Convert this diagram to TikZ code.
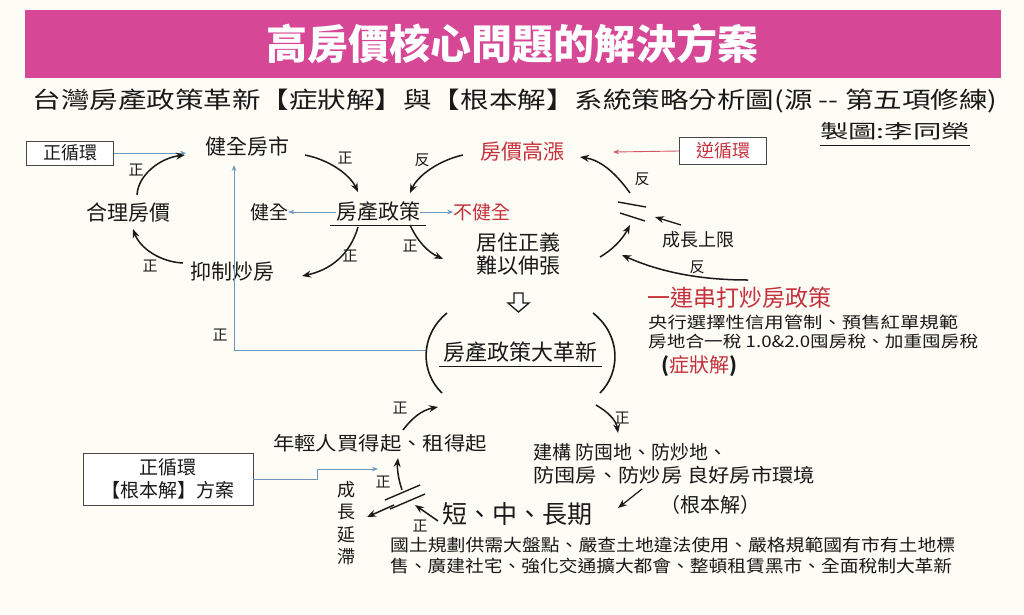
\documentclass[tikz,border=0pt]{standalone}
\usepackage{fontspec}
\setmainfont{Noto Sans CJK TC}
\usetikzlibrary{arrows.meta}
\definecolor{bgc}{RGB}{253,252,245}
\definecolor{titlec}{RGB}{214,72,150}
\definecolor{redc}{RGB}{196,48,60}
\definecolor{bluec}{RGB}{110,150,190}
\definecolor{inkc}{RGB}{25,25,25}
\newcommand{\hfitw}[2]{\resizebox{#1}{\height}{#2}}
\begin{document}
\begin{tikzpicture}[x=1pt,y=-1pt,
  every node/.style={inner sep=0pt, text=inkc},
  lbl/.style={font=\fontsize{21}{25}\selectfont},
  mid/.style={font=\fontsize{19}{22}\selectfont},
  sgn/.style={font=\fontsize{15}{18}\selectfont},
  redt/.style={text=redc},
  arr/.style={draw=inkc, line width=1.5pt, -{Stealth[length=9pt,width=7pt]}},
  barr/.style={draw=bluec, line width=0.9pt, -{Stealth[length=6pt,width=4.5pt]}},
  rarr/.style={draw=redc!80, line width=0.9pt, -{Stealth[length=6pt,width=4.5pt]}},
  brk/.style={draw=inkc, line width=1.4pt},
  boxs/.style={draw=inkc!80, line width=0.9pt, fill=white}
]
\useasboundingbox (0,0) rectangle (1024,614);
\fill[bgc] (0,0) rectangle (1024,614);
% title
\fill[titlec] (25,10) rectangle (1001,78);
\node[text=white, font=\fontsize{41}{44}\selectfont\bfseries] (title) at (512,44) {高房價核心問題的解決方案};
\node[font=\fontsize{23}{26}\selectfont] (sub) at (515,101) {\hfitw{965pt}{台灣房產政策革新【症狀解】與【根本解】系統策略分析圖(源 -{}- 第五項修練)}};
\node[font=\fontsize{19}{22}\selectfont] (auth) at (895,131) {\hfitw{150pt}{製圖:李同榮}};
\draw[inkc, line width=0.9pt] (820,145) -- (970,145);

% upper left loop
\node[boxs, minimum width=87pt, minimum height=24pt, font=\fontsize{18}{20}\selectfont] (box1) at (70,153) {正循環};
\node[lbl] (A) at (247,146) {健全房市};
\node[lbl] (B) at (128,213) {合理房價};
\node[lbl] (C) at (232,272) {抑制炒房};
\node[lbl] (D) at (378,212) {房產政策};
\draw[inkc, line width=0.9pt] (330,225) -- (426,225);
\node[mid] (E) at (269,212) {健全};
\node[mid, redt] (F) at (482,212) {不健全};
\node[lbl, redt] (G) at (522,152) {房價高漲};
\node[lbl, align=center] (H) at (518,254) {居住正義\\[-2pt]難以伸張};
\node[font=\fontsize{22}{25}\selectfont] (I) at (520,352) {房產政策大革新};
\draw[inkc, line width=0.9pt] (439,366) -- (602,366);

\draw[barr] (box1.east) -- (186,153);
\draw[barr] (D.west) -- (E.east);
\draw[barr] (D.east) -- (F.west);
\draw[barr, -] (427,350) -- (234,350);
\draw[barr] (234,350) -- (234,165);
\node[sgn] (s0) at (220,335) {正};

\draw[arr] (137,195) .. controls (138,175) and (160,158) .. (185,155);
\node[sgn] (s1) at (136,170) {正};
\draw[arr] (183,263) .. controls (160,262) and (140,248) .. (133,229);
\node[sgn] (s2) at (150,266) {正};
\draw[arr] (358,227) .. controls (350,255) and (330,270) .. (302,276);
\node[sgn] (s3) at (350,256) {正};
\draw[arr] (305,155) .. controls (330,160) and (350,175) .. (358,192);
\node[sgn] (s4) at (345,158) {正};
\draw[arr] (463,155) .. controls (440,160) and (418,175) .. (410,193);
\node[sgn] (s5) at (422,160) {反};
\draw[arr] (410,225) .. controls (418,242) and (428,252) .. (443,259);
\node[sgn] (s6) at (410,246) {正};

% hollow down arrow
\draw[inkc, line width=1.3pt, fill=white, line join=miter] (514,293) -- (523,293) -- (523,303) -- (529,303) -- (518.5,312) -- (508,303) -- (514,303) -- cycle;

% big parentheses
\draw[inkc, line width=1.6pt] (447,313) .. controls (420,335) and (420,372) .. (442,393);
\draw[inkc, line width=1.6pt] (593,313) .. controls (621,335) and (621,372) .. (600,393);

% right loop
\node[boxs, minimum width=87pt, minimum height=27pt, font=\fontsize{18}{20}\selectfont, text=redc] (J) at (723,151) {逆循環};
\draw[rarr] (J.west) -- (613,152);
\draw[brk] (618,202) -- (646,207);
\draw[brk] (620,213) -- (645,221);
\draw[arr] (630,193) .. controls (615,172) and (600,160) .. (580,157);
\node[sgn] (s7) at (642,179) {反};
\draw[arr] (600,257) .. controls (612,250) and (622,240) .. (630,225);
\node[font=\fontsize{18}{21}\selectfont] (K) at (698,240) {成長上限};
\draw[arr, line width=1.3pt] (681,225) -- (655,217);
\draw[arr] (748,280) .. controls (700,280) and (660,272) .. (622,255);
\node[sgn] (s8) at (697,267) {反};

\node[anchor=west, font=\fontsize{23}{26}\selectfont, redt] (L) at (647,298) {一連串打炒房政策};
\node[anchor=west, font=\fontsize{16}{18}\selectfont] (M) at (648,322) {\hfitw{310pt}{央行選擇性信用管制、預售紅單規範}};
\node[anchor=west, font=\fontsize{16}{18}\selectfont] (N) at (648,341) {\hfitw{330pt}{房地合一稅 1.0\&2.0囤房稅、加重囤房稅}};
\node[anchor=west, font=\fontsize{20}{23}\selectfont] (O) at (661,366) {\textbf{(}\textcolor{redc}{症狀解}\textbf{)}};

% lower part
\draw[arr] (403,430) .. controls (412,418) and (422,410) .. (438,407);
\node[sgn] (s9) at (400,408) {正};
\draw[arr] (596,405) .. controls (608,412) and (616,420) .. (618,433);
\node[sgn] (s10) at (622,418) {正};

\node[font=\fontsize{19}{22}\selectfont] (P) at (380,443) {\hfitw{214pt}{年輕人買得起、租得起}};
\node[anchor=west, font=\fontsize{19}{22}\selectfont] (Q) at (533,452) {建構 防囤地、防炒地、};
\node[anchor=west, font=\fontsize{19}{22}\selectfont] (R) at (533,475) {\hfitw{282pt}{防囤房、防炒房 良好房市環境}};
\node[font=\fontsize{20}{23}\selectfont] (S) at (710,505) {（根本解）};
\node[font=\fontsize{25}{28}\selectfont] (T) at (517,514) {短、中、長期};
\node[anchor=west, font=\fontsize{17}{19}\selectfont] (U) at (390,545) {\hfitw{565pt}{國土規劃供需大盤點、嚴查土地違法使用、嚴格規範國有市有土地標}};
\node[anchor=west, font=\fontsize{17}{19}\selectfont] (V) at (390,566) {\hfitw{562pt}{售、廣建社宅、強化交通擴大都會、整頓租賃黑市、全面稅制大革新}};

\node[boxs, minimum width=170pt, minimum height=52pt, align=center, font=\fontsize{19}{23}\selectfont] (W) at (168,479) {正循環\\【根本解】方案};
\draw[barr] (W.east) -- (317,479) -- (317,469) -- (378,469);

\node[align=center, font=\fontsize{18}{22.5}\selectfont] (X) at (346,523) {成\\長\\延\\滯};

\draw[arr] (402,490) .. controls (398,478) and (397,468) .. (398,458);
\node[sgn] (s11) at (383,482) {正};
\draw[brk] (385,500) -- (420,485);
\draw[brk] (390,509) -- (425,494);
\draw[arr] (394,505) -- (367,517);
\draw[arr] (438,521) -- (415,505);
\node[sgn] (s12) at (420,526) {正};
\draw[arr, line width=1.2pt] (642,489) -- (618,508);
\end{tikzpicture}
\end{document}
